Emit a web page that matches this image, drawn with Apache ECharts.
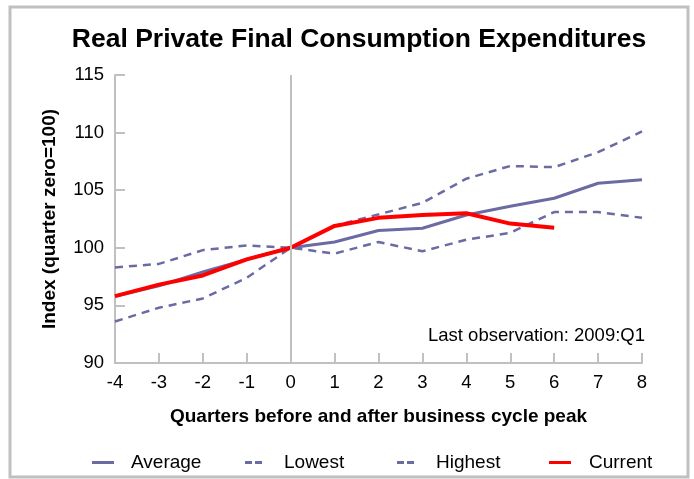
<!DOCTYPE html>
<html>
<head>
    <meta charset="utf-8">
    <title>Real Private Final Consumption Expenditures</title>
    <script src="https://cdn.jsdelivr.net/npm/echarts@6/dist/echarts.min.js"></script>
    <style>
        html, body { margin: 0; padding: 0; background: #fff; }
        #main { width: 694px; height: 479px; }
    </style>
</head>
<body>
<div id="main"></div>
<script type="text/javascript">
    // quarters relative to the business cycle peak
    var quarters = [-4, -3, -2, -1, 0, 1, 2, 3, 4, 5, 6, 7, 8];
    var average  = [95.8, 96.7, 97.9, 99.0, 100, 100.5, 101.5, 101.7, 102.85, 103.6, 104.3, 105.6, 105.9];
    var lowest   = [98.3, 98.6, 99.8, 100.2, 100, 99.5, 100.5, 99.7, 100.7, 101.3, 103.1, 103.1, 102.6];
    var highest  = [93.6, 94.8, 95.6, 97.4, 100, 101.9, 102.9, 103.9, 106.0, 107.1, 107.0, 108.3, 110.1];
    var current  = [95.8, 96.8, 97.6, 99.0, 100, 101.9, 102.6, 102.85, 103.0, 102.1, 101.75];

    var slate = '#6b6ba3';
    var grey = '#c0c0c0';
    var font = 'Liberation Sans, Arial, sans-serif';

    // legend icons: solid bar and two short dashes
    var solidIcon = 'path://M0,0H22V3H0Z';
    var dashIcon = 'path://M0,0H7V3H0Z M10,0H17V3H10Z';

    function pairs(vals) {
        var out = [];
        for (var i = 0; i < vals.length; i++) out.push([quarters[i], vals[i]]);
        return out;
    }

    function legendAt(name, icon, left, w, gap) {
        return {
            data: [{ name: name, icon: icon }],
            left: left,
            top: 448,
            itemWidth: w,
            itemHeight: 3,
            itemGap: 0,
            textStyle: { fontFamily: font, fontSize: 19, color: '#000', padding: [0, 0, 0, gap] }
        };
    }

    var myChart = echarts.init(document.getElementById('main'));

    var option = {
        animation: false,
        backgroundColor: '#fff',
        title: {
            text: 'Real Private Final Consumption Expenditures',
            left: 354,
            textAlign: 'center',
            top: 21,
            textStyle: { fontFamily: font, fontSize: 26.5, fontWeight: 'bold', color: '#000' }
        },
        legend: [
            legendAt('Average', solidIcon, 87, 22, 12),
            legendAt('Lowest', dashIcon, 240, 17, 17),
            legendAt('Highest', dashIcon, 392, 17, 17),
            legendAt('Current', solidIcon, 544, 22, 13)
        ],
        graphic: [
            {
                type: 'rect',
                shape: { x: 10, y: 7, width: 678, height: 470 },
                style: { fill: 'none', stroke: grey, lineWidth: 3 },
                silent: true
            },
            {
                type: 'text',
                right: 49,
                top: 326,
                style: { text: 'Last observation: 2009:Q1', font: '18.5px ' + font, fill: '#000' }
            }
        ],
        grid: { left: 115, right: 52, top: 75, bottom: 116 },
        xAxis: {
            type: 'value',
            min: -4,
            max: 8,
            interval: 1,
            name: 'Quarters before and after business cycle peak',
            nameLocation: 'middle',
            nameGap: 44,
            nameTextStyle: { fontFamily: font, fontSize: 19, fontWeight: 'bold', color: '#000' },
            axisLine: { onZero: false, lineStyle: { color: grey, width: 2 } },
            axisTick: { inside: true, length: 10, lineStyle: { color: grey, width: 2 } },
            axisLabel: { fontFamily: font, fontSize: 18.5, color: '#000', margin: 10 },
            splitLine: { show: false }
        },
        yAxis: {
            type: 'value',
            min: 90,
            max: 115,
            interval: 5,
            name: 'Index (quarter zero=100)',
            nameLocation: 'middle',
            nameGap: 56,
            nameTextStyle: { fontFamily: font, fontSize: 19, fontWeight: 'bold', color: '#000' },
            axisLine: { show: true, onZero: false, lineStyle: { color: grey, width: 2 } },
            axisTick: { show: true, inside: true, length: 10, lineStyle: { color: grey, width: 2 } },
            axisLabel: { fontFamily: font, fontSize: 18.5, color: '#000', margin: 11 },
            splitLine: { show: false }
        },
        series: [
            {
                name: 'Average',
                type: 'line',
                data: pairs(average),
                symbol: 'none',
                lineStyle: { color: slate, width: 3 },
                itemStyle: { color: slate },
                z: 3,
                markLine: {
                    silent: true,
                    symbol: 'none',
                    label: { show: false },
                    lineStyle: { color: grey, width: 2, type: 'solid' },
                    data: [{ xAxis: 0 }]
                }
            },
            {
                name: 'Lowest',
                type: 'line',
                data: pairs(lowest),
                symbol: 'none',
                lineStyle: { color: slate, width: 2.5, type: [8, 6] },
                itemStyle: { color: slate },
                z: 2
            },
            {
                name: 'Highest',
                type: 'line',
                data: pairs(highest),
                symbol: 'none',
                lineStyle: { color: slate, width: 2.5, type: [8, 6] },
                itemStyle: { color: slate },
                z: 2
            },
            {
                name: 'Current',
                type: 'line',
                data: pairs(current),
                symbol: 'none',
                lineStyle: { color: '#ff0000', width: 4 },
                itemStyle: { color: '#ff0000' },
                z: 4
            }
        ]
    };

    myChart.setOption(option);
</script>
</body>
</html>
